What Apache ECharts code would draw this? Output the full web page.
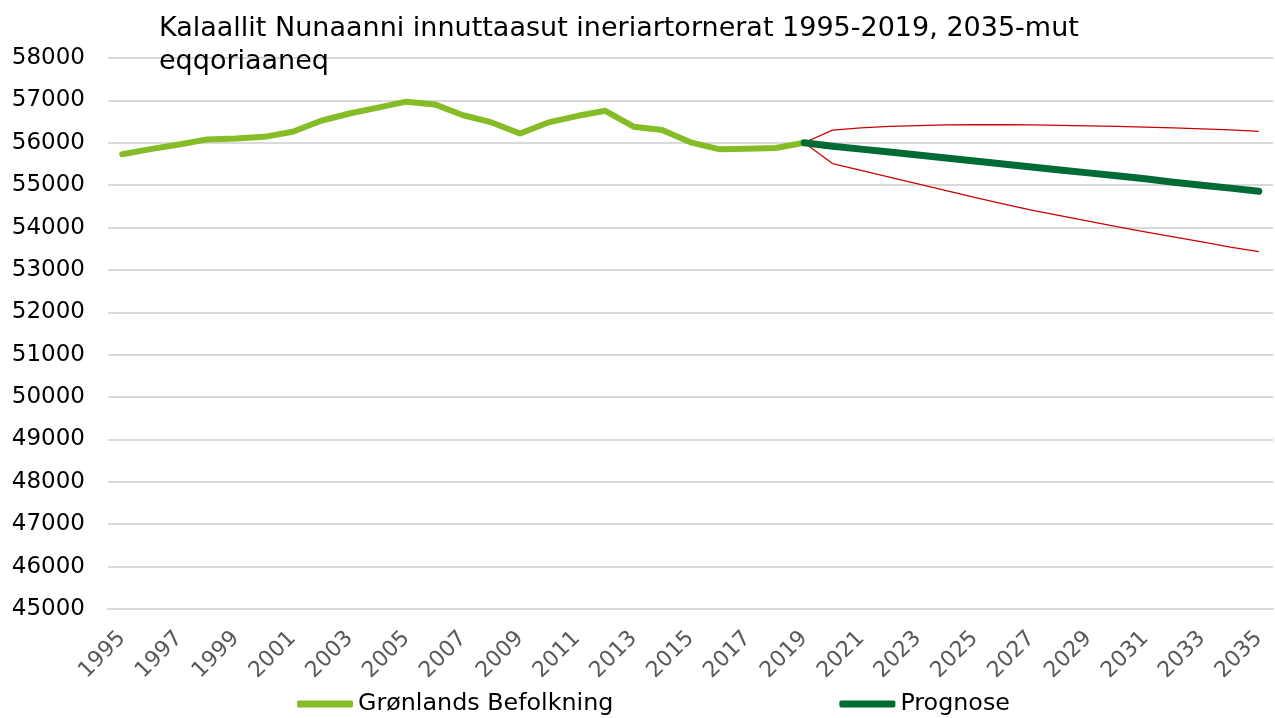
<!DOCTYPE html>
<html>
<head>
<meta charset="utf-8">
<script src="https://cdn.jsdelivr.net/npm/echarts@6/dist/echarts.min.js"></script>
<style>
  html, body { margin: 0; padding: 0; background: #fff; }
  #chart { width: 1275px; height: 718px; }
</style>
</head>
<body>
<div id="chart"></div>
<script>
// years 1995-2035
var years = [];
for (var y = 1995; y <= 2035; y++) { years.push(String(y)); }

// Grønlands Befolkning 1995-2019
var befolkning = [55730, 55850, 55960, 56080, 56100, 56140, 56260, 56520, 56690, 56830,
                  56970, 56905, 56650, 56480, 56220, 56480, 56630, 56755, 56380, 56300,
                  56010, 55850, 55860, 55875, 56000];

// Prognose 2019-2035
var prognose = [56000, 55920, 55850, 55780, 55710, 55640, 55570, 55500, 55430,
                55360, 55290, 55220, 55150, 55070, 55000, 54930, 54855];

// upper and lower bounds 2019-2035 (red)
var upper = [56000, 56300, 56350, 56385, 56405, 56420, 56425, 56425, 56420,
             56410, 56400, 56385, 56370, 56350, 56330, 56305, 56270];
var lower = [56000, 55510, 55350, 55190, 55030, 54870, 54710, 54560, 54410,
             54280, 54150, 54020, 53900, 53780, 53660, 53540, 53430];

var yTicks = { min: 45000, max: 58000, interval: 1000 };

function pad(arr) {
    // put the forecast series at the end of the year axis
    var out = [];
    for (var i = 0; i < years.length - arr.length; i++) { out.push('-'); }
    return out.concat(arr);
}

var font = 'DejaVu Sans, Verdana, sans-serif';
var myChart = echarts.init(document.getElementById('chart'));
var option = {
    animation: false,
    textStyle: { fontFamily: font },
    title: {
        text: 'Kalaallit Nunaanni innuttaasut ineriartornerat 1995-2019, 2035-mut\neqqoriaaneq',
        left: 154,
        top: 7,
        textStyle: { fontFamily: font, fontSize: 27, fontWeight: 'normal', color: '#000', lineHeight: 33 }
    },
    legend: {
        left: 297,
        top: 692,
        padding: 0,
        itemGap: 226,
        itemWidth: 56,
        itemHeight: 7,
        icon: 'roundRect',
        data: ['Grønlands Befolkning', 'Prognose'],
        textStyle: { fontFamily: font, fontSize: 23.8, color: '#000' }
    },
    grid: { left: 108, right: 2, top: 58, bottom: 109 },
    xAxis: {
        type: 'category',
        boundaryGap: true,
        data: years,
        axisLine: { lineStyle: { color: '#d9d9d9', width: 2 } },
        axisTick: { show: false },
        axisLabel: { interval: 1, rotate: 45, fontSize: 22, color: '#595959', fontFamily: font, margin: 26 }
    },
    yAxis: {
        type: 'value',
        min: yTicks.min,
        max: yTicks.max,
        interval: yTicks.interval,
        axisLine: { show: false },
        axisTick: { show: false },
        axisLabel: {
            fontSize: 23, color: '#000', fontFamily: font, margin: 23,
            formatter: function (v) { return String(v); }
        },
        splitLine: { lineStyle: { color: '#d9d9d9', width: 2 } }
    },
    series: [
        {
            name: 'upper', type: 'line', data: pad(upper), symbol: 'none',
            lineStyle: { color: '#cc0000', width: 1.3 }, z: 1
        },
        {
            name: 'lower', type: 'line', data: pad(lower), symbol: 'none',
            lineStyle: { color: '#cc0000', width: 1.3 }, z: 1
        },
        {
            name: 'Grønlands Befolkning', type: 'line', data: befolkning, symbol: 'none',
            itemStyle: { color: '#86bc25' },
            lineStyle: { color: '#86bc25', width: 6, cap: 'round', join: 'round' }, z: 2
        },
        {
            name: 'Prognose', type: 'line', data: pad(prognose), symbol: 'none',
            itemStyle: { color: '#006b35' },
            lineStyle: { color: '#006b35', width: 7, cap: 'round', join: 'round' }, z: 3
        }
    ]
};
myChart.setOption(option);
</script>
</body>
</html>
